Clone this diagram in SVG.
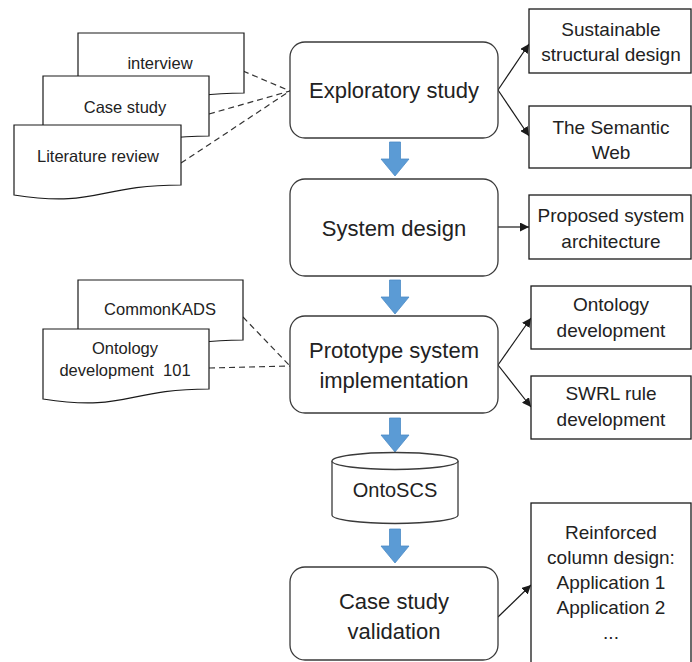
<svg xmlns="http://www.w3.org/2000/svg" width="692" height="662" viewBox="0 0 692 662">
  <style>
    .proc { fill: #ffffff; stroke: #3a3a3a; stroke-width: 1.3; }
    .box { fill: #ffffff; stroke: #1a1a1a; stroke-width: 1.3; }
    .doc { fill: #ffffff; stroke: #1a1a1a; stroke-width: 1.2; }
    .flow { fill: #5b9bd5; stroke: #4d8cc6; stroke-width: 0.8; }
    .link { fill: none; stroke: #1a1a1a; stroke-width: 1.2; marker-end: url(#head); }
    .dash { fill: none; stroke: #333333; stroke-width: 1.2; stroke-dasharray: 6 4; }
    text { font-family: "Liberation Sans", Arial, sans-serif; fill: #222222; text-anchor: middle; }
    .big { font-size: 22px; }
    .mid { font-size: 19px; }
    .db { font-size: 20px; }
    .small { font-size: 16.5px; }
  </style>
  <defs>
    <marker id="head" viewBox="0 0 10 10" refX="10" refY="5" markerWidth="9" markerHeight="9" markerUnits="userSpaceOnUse" orient="auto">
      <path d="M0,0 L10,5 L0,10 Z" fill="#1a1a1a"/>
    </marker>
    <!-- block arrow pointing down, tip at (0,34) -->
    <path id="down" d="M-5.5,0 H5.5 V17 H14 L0,34 L-14,17 H-5.5 Z"/>
  </defs>

  <!-- connectors -->
  <g id="connectors">
    <line class="dash" x1="243" y1="71" x2="290" y2="91"/>
    <line class="dash" x1="209" y1="114" x2="290" y2="91"/>
    <line class="dash" x1="181" y1="163" x2="290" y2="91"/>
    <line class="dash" x1="243" y1="317" x2="290" y2="366"/>
    <line class="dash" x1="209" y1="368" x2="290" y2="366"/>

    <line class="link" x1="498" y1="90" x2="529" y2="44"/>
    <line class="link" x1="498" y1="90" x2="529" y2="136"/>
    <line class="link" x1="498" y1="227" x2="529" y2="227"/>
    <line class="link" x1="498" y1="365" x2="531" y2="318"/>
    <line class="link" x1="498" y1="365" x2="531" y2="407"/>
    <line class="link" x1="498" y1="617" x2="531" y2="585"/>

    <use href="#down" class="flow" x="395" y="142"/>
    <use href="#down" class="flow" x="395" y="280"/>
    <use href="#down" class="flow" x="395" y="418"/>
    <use href="#down" class="flow" x="395" y="529"/>
  </g>

  <!-- source documents -->
  <g id="doc-interview">
    <path class="doc" d="M78,33 H244 V93 C161,93 161,116 78,103 Z"/>
    <text class="small" x="160" y="69">interview</text>
  </g>
  <g id="doc-case-study">
    <path class="doc" d="M43,76 H209 V136 C126,136 126,159 43,146 Z"/>
    <text class="small" x="125" y="113">Case study</text>
  </g>
  <g id="doc-literature">
    <path class="doc" d="M14,125 H181 V185 C97,185 97,208 14,195 Z"/>
    <text class="small" x="98" y="162">Literature review</text>
  </g>
  <g id="doc-commonkads">
    <path class="doc" d="M78,280 H243 V340 C160,340 160,363 78,350 Z"/>
    <text class="small" x="160" y="315">CommonKADS</text>
  </g>
  <g id="doc-ontology101">
    <path class="doc" d="M43,329 H209 V389 C126,389 126,412 43,399 Z"/>
    <text class="small" x="125" y="354">Ontology</text>
    <text class="small" x="125" y="376" xml:space="preserve">development  101</text>
  </g>

  <!-- main process steps -->
  <g id="exploratory-study">
    <rect class="proc" x="290" y="42" width="208" height="96" rx="15"/>
    <text class="big" x="394" y="98">Exploratory study</text>
  </g>
  <g id="system-design">
    <rect class="proc" x="290" y="179" width="208" height="97" rx="15"/>
    <text class="big" x="394" y="236">System design</text>
  </g>
  <g id="prototype">
    <rect class="proc" x="290" y="316" width="208" height="97" rx="15"/>
    <text class="big" x="394" y="358">Prototype system</text>
    <text class="big" x="394" y="388">implementation</text>
  </g>
  <g id="ontoscs">
    <path class="proc" d="M332,461 V515 A63,8.5 0 0 0 458,515 V461"/>
    <ellipse class="proc" cx="395" cy="461" rx="63" ry="8.5"/>
    <text class="db" x="395" y="497">OntoSCS</text>
  </g>
  <g id="case-study-validation">
    <rect class="proc" x="290" y="567" width="208" height="93" rx="15"/>
    <text class="big" x="394" y="609">Case study</text>
    <text class="big" x="394" y="639">validation</text>
  </g>

  <!-- outcomes -->
  <g id="out-sustainable">
    <rect class="box" x="529" y="9" width="162" height="64"/>
    <text class="mid" x="611" y="36">Sustainable</text>
    <text class="mid" x="611" y="61">structural design</text>
  </g>
  <g id="out-semantic-web">
    <rect class="box" x="529" y="106" width="162" height="62"/>
    <text class="mid" x="611" y="134">The Semantic</text>
    <text class="mid" x="611" y="159">Web</text>
  </g>
  <g id="out-architecture">
    <rect class="box" x="529" y="195" width="162" height="64"/>
    <text class="mid" x="611" y="222">Proposed system</text>
    <text class="mid" x="611" y="248">architecture</text>
  </g>
  <g id="out-ontology">
    <rect class="box" x="531" y="286" width="160" height="63"/>
    <text class="mid" x="611" y="311">Ontology</text>
    <text class="mid" x="611" y="337">development</text>
  </g>
  <g id="out-swrl">
    <rect class="box" x="531" y="376" width="160" height="63"/>
    <text class="mid" x="611" y="400">SWRL rule</text>
    <text class="mid" x="611" y="426">development</text>
  </g>
  <g id="out-column">
    <rect class="box" x="531" y="503" width="160" height="165"/>
    <text class="mid" x="611" y="539">Reinforced</text>
    <text class="mid" x="611" y="564">column design:</text>
    <text class="mid" x="611" y="589">Application 1</text>
    <text class="mid" x="611" y="614">Application 2</text>
    <text class="mid" x="611" y="639">...</text>
  </g>
</svg>
